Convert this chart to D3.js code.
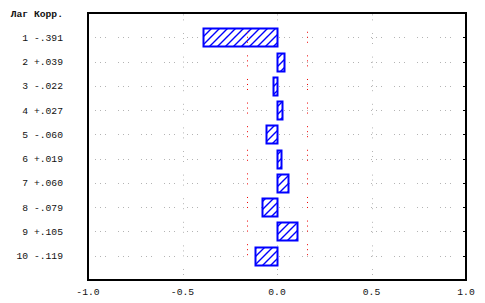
<!DOCTYPE html>
<html><head><meta charset="utf-8">
<script src="https://cdn.jsdelivr.net/npm/d3@7"></script>
<style>html,body{margin:0;padding:0;background:#fff;}svg{display:block;}</style>
</head><body><svg id="c" width="485" height="303"></svg>
<script>
const lags = [1, 2, 3, 4, 5, 6, 7, 8, 9, 10];
const corr = [-0.391, 0.039, -0.022, 0.027, -0.060, 0.019, 0.060, -0.079, 0.105, -0.119];
const xTicks = [-1, -0.5, 0, 0.5, 1];
const xTickLabels = ["-1.0", "-0.5", "0.0", "0.5", "1.0"];
const confLimits = [-0.16, 0.16];
const header = "Лаг Корр.";

const svg = d3.select("#c");
const L = 88, R = 466, T = 13, B = 280;
const x = d3.scaleLinear().domain([-1, 1]).range([L, R]);
const y = d3.scaleLinear().domain([0, lags.length + 1]).range([T, B]);
const px = v => Math.round(v) + 0.5;
const font = "'Liberation Mono','Courier New',monospace";

const defs = svg.append("defs");
const pat = defs.append("pattern").attr("id", "hatch").attr("patternUnits", "userSpaceOnUse")
  .attr("width", 8).attr("height", 8);
pat.append("rect").attr("width", 8).attr("height", 8).attr("fill", "#fff");
pat.append("path").attr("d", "M-2,2 L2,-2 M0,8 L8,0 M6,10 L10,6").attr("stroke", "#0000ff").attr("stroke-width", 1.4);

// horizontal gray dotted rows
svg.append("g").selectAll("line").data(lags).join("line")
  .attr("x1", L + 7).attr("x2", R - 1)
  .attr("y1", (d, i) => px(y(i + 1))).attr("y2", (d, i) => px(y(i + 1)))
  .attr("stroke", "#b4b4b4").attr("stroke-width", 1)
  .attr("stroke-dasharray", "1,4,1,4,1,12");

// vertical gray dotted lines
svg.append("g").selectAll("line").data([-0.5, 0, 0.5]).join("line")
  .attr("x1", d => px(x(d))).attr("x2", d => px(x(d)))
  .attr("y1", T).attr("y2", B)
  .attr("stroke", "#b4b4b4").attr("stroke-width", 1)
  .attr("stroke-dasharray", "1,4,1,4,1,12.6").attr("stroke-dashoffset", 3.6);

// bars
svg.append("g").selectAll("rect").data(corr).join("rect")
  .attr("x", d => Math.round(Math.min(x(0), x(d))) + 0.5)
  .attr("width", d => Math.max(1, Math.round(Math.abs(x(d) - x(0)))))
  .attr("y", (d, i) => Math.round(y(i + 1)) - 8.5)
  .attr("height", 18)
  .attr("fill", "url(#hatch)").attr("stroke", "#0000ff").attr("stroke-width", 2);

// red confidence limits
svg.append("g").selectAll("line").data(confLimits).join("line")
  .attr("x1", d => px(x(d))).attr("x2", d => px(x(d)))
  .attr("y1", y(1) - 5.5).attr("y2", y(lags.length) + 1)
  .attr("stroke", "#ee0000").attr("stroke-width", 1)
  .attr("stroke-dasharray", "1,4,1,4,1,12.6");

// frame
svg.append("rect").attr("x", L).attr("y", T).attr("width", R - L).attr("height", B - T)
  .attr("fill", "none").attr("stroke", "#000").attr("stroke-width", 2);

// right ticks
svg.append("g").selectAll("line").data(lags).join("line")
  .attr("x1", R - 3).attr("x2", R)
  .attr("y1", (d, i) => px(y(i + 1))).attr("y2", (d, i) => px(y(i + 1)))
  .attr("stroke", "#000").attr("stroke-width", 1);

// row labels
const fmt = v => (v < 0 ? "-" : "+") + d3.format(".3f")(Math.abs(v)).replace(/^0/, "");
svg.append("text").attr("x", 63).attr("y", 17).attr("text-anchor", "end")
  .attr("font-family", font).attr("font-size", 9.7).attr("font-weight", "bold").attr("fill", "#111").text(header);
svg.append("g").selectAll("text").data(corr).join("text")
  .attr("x", 63).attr("y", (d, i) => y(i + 1) + 3.5).attr("text-anchor", "end")
  .attr("font-family", font).attr("font-size", 9.7).attr("fill", "#111")
  .attr("xml:space", "preserve")
  .text((d, i) => lags[i] + " " + fmt(d));

// x axis labels
svg.append("g").selectAll("text").data(xTicks).join("text")
  .attr("x", d => x(d)).attr("y", 294.5).attr("text-anchor", "middle")
  .attr("font-family", font).attr("font-size", 9.7).attr("fill", "#111")
  .text((d, i) => xTickLabels[i]);
</script></body></html>
